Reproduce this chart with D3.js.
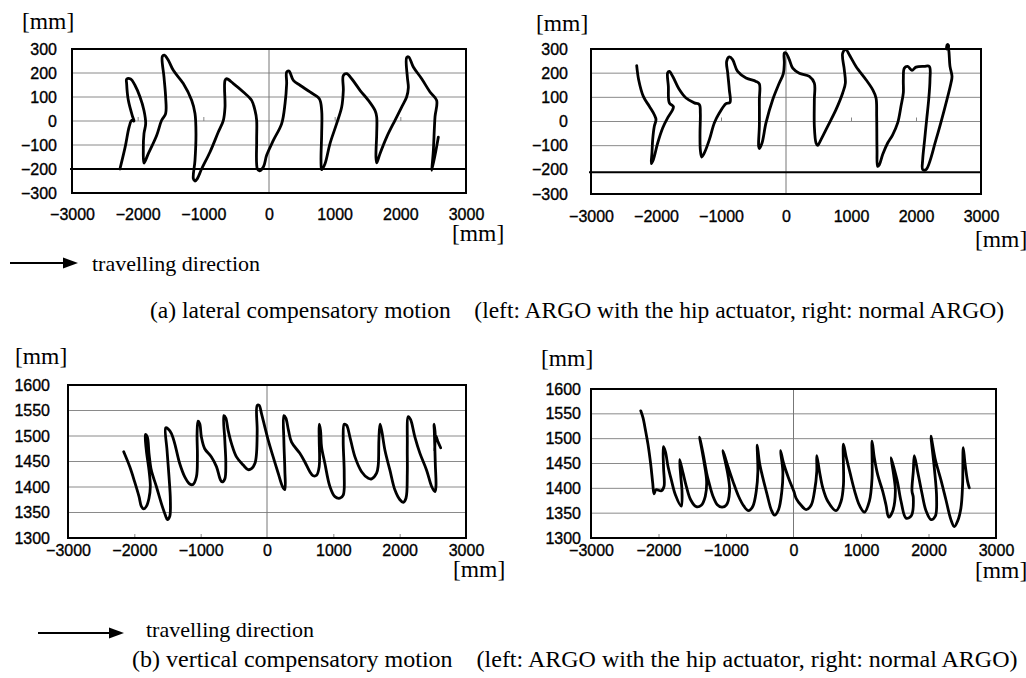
<!DOCTYPE html>
<html>
<head>
<meta charset="utf-8">
<script src="https://cdn.jsdelivr.net/npm/d3@7"></script>
<style>
  body { margin: 0; background: #fff; }
  svg { display: block; }
</style>
</head>
<body>
<svg id="fig" width="1026" height="678"></svg>
<script>

// ---- Data (in mm) ----

var xTicks = [-3000, -2000, -1000, 0, 1000, 2000, 3000];
var minorTicks = [-2000, -1000, 1000, 2000];
var lateralTicks = [-300, -200, -100, 0, 100, 200, 300];
var verticalTicks = [1300, 1350, 1400, 1450, 1500, 1550, 1600];

var unitLabel = "[mm]";
var directionLabel = "travelling direction";
var captions = [
	"(a) lateral compensatory motion    (left: ARGO with the hip actuator, right: normal ARGO)",
	"(b) vertical compensatory motion    (left: ARGO with the hip actuator, right: normal ARGO)"
];

// lateral motion, ARGO with the hip actuator
var lateralHip = [[-2270,-200],[-2190,-108],[-2130,-25],[-2090,3],[-2056,0],[-2076,17],[-2142,86],[-2168,156],[-2168,174],[-2107,175],[-2041,149],[-1964,100],[-1904,44],[-1878,-11],[-1904,-53],[-1914,-122],[-1904,-175],[-1838,-136],[-1711,-60],[-1635,3],[-1574,31],[-1574,100],[-1599,183],[-1624,269],[-1594,274],[-1533,253],[-1457,211],[-1305,156],[-1178,86],[-1127,31],[-1112,-53],[-1127,-164],[-1152,-240],[-1127,-250],[-1091,-240],[-1025,-199],[-898,-129],[-772,-46],[-695,3],[-670,58],[-670,169],[-645,176],[-543,156],[-391,121],[-264,86],[-213,44],[-188,3],[-188,-81],[-178,-199],[-147,-208],[-86,-192],[-36,-143],[66,-81],[193,-11],[244,72],[269,156],[269,204],[305,208],[371,169],[472,149],[624,121],[766,93],[802,44],[802,-53],[792,-164],[802,-203],[853,-178],[929,-94],[1030,-11],[1107,58],[1132,128],[1132,190],[1183,197],[1259,176],[1386,128],[1513,86],[1614,44],[1640,17],[1640,-53],[1629,-150],[1640,-174],[1690,-136],[1792,-67],[1919,3],[2020,58],[2096,100],[2122,139],[2107,183],[2096,264],[2127,267],[2198,225],[2325,176],[2452,121],[2553,86],[2528,17],[2503,-122],[2482,-206],[2579,-67]];

// lateral motion, normal ARGO
var lateralNormal = [[-2297,231],[-2267,173],[-2195,104],[-2103,63],[-2026,28],[-2000,8],[-2026,-20],[-2051,-75],[-2062,-130],[-2072,-174],[-2041,-158],[-1974,-89],[-1897,-27],[-1821,15],[-1744,49],[-1733,62],[-1795,77],[-1810,146],[-1821,201],[-1795,207],[-1744,187],[-1641,132],[-1538,97],[-1410,77],[-1333,70],[-1318,35],[-1323,-48],[-1318,-117],[-1297,-147],[-1256,-130],[-1179,-75],[-1103,-6],[-1026,35],[-923,74],[-862,79],[-872,132],[-897,201],[-913,249],[-872,267],[-821,256],[-744,207],[-615,180],[-462,166],[-410,156],[-410,90],[-410,-20],[-421,-103],[-410,-112],[-369,-89],[-308,-6],[-205,90],[-103,159],[-41,198],[-26,242],[-26,283],[0,283],[51,256],[103,221],[205,200],[359,187],[436,159],[436,90],[436,-20],[462,-89],[487,-99],[538,-75],[641,-20],[769,49],[872,118],[913,159],[897,214],[872,283],[923,297],[974,276],[1077,228],[1231,173],[1333,132],[1385,97],[1395,21],[1400,-117],[1410,-186],[1436,-179],[1487,-137],[1564,-89],[1641,-55],[1718,-6],[1769,63],[1805,118],[1805,173],[1821,221],[1872,228],[1938,212],[2000,225],[2128,228],[2205,228],[2215,173],[2195,90],[2164,8],[2133,-75],[2103,-158],[2103,-199],[2154,-199],[2308,-75],[2436,49],[2538,159],[2554,187],[2523,228],[2503,297],[2487,311],[2470,300],[2480,318],[2500,315],[2495,300]];

// vertical motion, ARGO with the hip actuator
var verticalHip = [[-2160,1469],[-2070,1440],[-1995,1410],[-1929,1381],[-1894,1362],[-1859,1357],[-1819,1362],[-1779,1378],[-1759,1401],[-1779,1433],[-1819,1472],[-1834,1503],[-1804,1498],[-1779,1466],[-1744,1433],[-1668,1401],[-1593,1368],[-1533,1345],[-1502,1336],[-1467,1342],[-1457,1375],[-1477,1420],[-1507,1472],[-1527,1516],[-1492,1514],[-1442,1505],[-1391,1485],[-1316,1446],[-1240,1420],[-1165,1406],[-1115,1405],[-1064,1420],[-1049,1459],[-1054,1505],[-1039,1529],[-1014,1524],[-989,1498],[-939,1475],[-838,1459],[-762,1440],[-702,1414],[-677,1410],[-636,1416],[-621,1446],[-636,1492],[-651,1540],[-621,1535],[-586,1511],[-535,1485],[-460,1459],[-359,1443],[-284,1434],[-234,1436],[-183,1446],[-158,1466],[-148,1511],[-148,1560],[-118,1560],[-83,1544],[-33,1518],[18,1492],[93,1459],[169,1427],[234,1401],[269,1395],[269,1433],[254,1492],[254,1540],[284,1535],[324,1511],[370,1488],[495,1466],[571,1449],[646,1430],[696,1422],[747,1423],[787,1440],[787,1492],[787,1523],[807,1511],[822,1479],[873,1446],[948,1401],[1024,1381],[1099,1378],[1149,1384],[1164,1427],[1149,1492],[1164,1523],[1200,1521],[1250,1498],[1326,1459],[1426,1430],[1527,1417],[1577,1416],[1652,1427],[1677,1443],[1687,1492],[1703,1523],[1728,1511],[1778,1472],[1853,1433],[1929,1394],[2004,1375],[2054,1370],[2095,1378],[2115,1427],[2115,1482],[2130,1538],[2165,1532],[2230,1498],[2306,1466],[2406,1433],[2482,1401],[2532,1391],[2547,1401],[2537,1446],[2522,1511],[2517,1523],[2535,1505],[2527,1470],[2545,1500],[2580,1488],[2618,1477]];

// vertical motion, normal ARGO
var verticalNormal = [[-2263,1556],[-2229,1542],[-2204,1525],[-2155,1488],[-2115,1448],[-2086,1411],[-2066,1389],[-2037,1397],[-1958,1395],[-1918,1404],[-1925,1441],[-1928,1484],[-1898,1474],[-1859,1444],[-1810,1417],[-1750,1387],[-1662,1364],[-1652,1394],[-1672,1427],[-1686,1458],[-1637,1431],[-1588,1404],[-1524,1377],[-1440,1363],[-1366,1366],[-1307,1384],[-1287,1414],[-1327,1454],[-1391,1503],[-1341,1471],[-1287,1431],[-1257,1414],[-1193,1384],[-1129,1367],[-1060,1362],[-996,1366],[-947,1394],[-971,1427],[-1045,1476],[-981,1448],[-897,1414],[-814,1384],[-735,1364],[-666,1355],[-602,1364],[-552,1394],[-528,1434],[-537,1487],[-503,1451],[-454,1421],[-390,1387],[-330,1357],[-281,1346],[-222,1357],[-173,1394],[-158,1434],[-192,1476],[-148,1451],[-74,1421],[5,1394],[39,1380],[113,1366],[187,1357],[261,1366],[311,1394],[345,1434],[345,1466],[385,1434],[434,1401],[508,1374],[631,1355],[705,1374],[740,1407],[740,1489],[779,1464],[838,1431],[907,1394],[976,1366],[1050,1352],[1124,1374],[1164,1421],[1164,1495],[1198,1461],[1248,1427],[1322,1394],[1371,1366],[1410,1342],[1469,1354],[1509,1394],[1484,1427],[1445,1462],[1494,1438],[1543,1411],[1593,1374],[1667,1340],[1741,1344],[1775,1381],[1755,1395],[1775,1434],[1790,1466],[1839,1434],[1903,1390],[1963,1355],[2037,1337],[2101,1344],[2120,1381],[2086,1441],[2037,1505],[2101,1458],[2184,1417],[2258,1377],[2332,1337],[2382,1323],[2431,1334],[2480,1360],[2505,1407],[2515,1482],[2540,1451],[2579,1414],[2604,1401]];

// ---- Drawing ----

var SANS = "'Liberation Sans', Arial, sans-serif";
var SERIF = "'Liberation Serif', 'Times New Roman', serif";

var svg = d3.select("#fig");

// Layout of the four panels (pixel boxes and label placement):
var panels = [
	{ points: lateralHip, yTicks: lateralTicks, refLine: -200, minorAt: 0,
	  left: 72, right: 466, top: 49, bottom: 193, yPad: 15, xPad: 16,
	  unitTop: [22, 29], unitBottom: [452, 241] },
	{ points: lateralNormal, yTicks: lateralTicks, refLine: -210, minorAt: 0,
	  left: 591, right: 981, top: 49, bottom: 194, yPad: 23, xPad: 17,
	  unitTop: [536, 31], unitBottom: [975, 247] },
	{ points: verticalHip, yTicks: verticalTicks, minorAt: 1300,
	  left: 68, right: 466, top: 385, bottom: 538, yPad: 18, xPad: 7,
	  unitTop: [15, 364], unitBottom: [453, 577] },
	{ points: verticalNormal, yTicks: verticalTicks, minorAt: 1300,
	  left: 591, right: 996, top: 389, bottom: 538, yPad: 10, xPad: 7,
	  unitTop: [541, 366], unitBottom: [975, 578] }
];

var tickFormat = d3.format("d");

panels.forEach(function(p) {

	var x = d3.scaleLinear().domain([xTicks[0], xTicks[xTicks.length - 1]]).range([p.left, p.right]);
	var y = d3.scaleLinear().domain([p.yTicks[0], p.yTicks[p.yTicks.length - 1]]).range([p.bottom, p.top]);
	var g = svg.append("g");

	// Horizontal grid lines (the -200 one is replaced by the thick line):
	g.selectAll("line.grid")
		.data(p.yTicks.slice(1, -1).filter(function(d) {
			return p.refLine == undefined || d != -200;
		}))
		.enter().append("line")
		.attr("x1", p.left).attr("x2", p.right)
		.attr("y1", function(d) { return y(d); })
		.attr("y2", function(d) { return y(d); })
		.attr("stroke", "#8a8a8a")
		.attr("stroke-width", 1);

	// The vertical line at x = 0:
	g.append("line")
		.attr("x1", x(0)).attr("x2", x(0))
		.attr("y1", p.top).attr("y2", p.bottom)
		.attr("stroke", "#777")
		.attr("stroke-width", 1);

	// The thick reference line of the lateral plots:
	if (p.refLine != undefined)
		g.append("line")
			.attr("x1", p.left - 2).attr("x2", p.right)
			.attr("y1", y(p.refLine)).attr("y2", y(p.refLine))
			.attr("stroke", "#000")
			.attr("stroke-width", 2);

	// Small tick marks:
	var minor = g.append("g")
		.attr("transform", "translate(0," + y(p.minorAt) + ")")
		.call(d3.axisBottom(x).tickValues(minorTicks).tickSize(-4).tickFormat(""));
	minor.select(".domain").remove();
	minor.selectAll("line").attr("stroke", "#888");

	// The trajectory:
	g.append("path")
		.datum(p.points)
		.attr("d", d3.line()
			.curve(d3.curveCatmullRom.alpha(0.5))
			.x(function(d) { return x(d[0]); })
			.y(function(d) { return y(d[1]); }))
		.attr("fill", "none")
		.attr("stroke", "#000")
		.attr("stroke-width", 2.8)
		.attr("stroke-linejoin", "round")
		.attr("stroke-linecap", "round");

	// The frame:
	g.append("rect")
		.attr("x", p.left).attr("y", p.top)
		.attr("width", p.right - p.left)
		.attr("height", p.bottom - p.top)
		.attr("fill", "none")
		.attr("stroke", "#000")
		.attr("stroke-width", 2);

	// Axes (labels only):
	var yAxis = g.append("g")
		.attr("transform", "translate(" + p.left + ",0)")
		.call(d3.axisLeft(y).tickValues(p.yTicks).tickSize(0).tickPadding(p.yPad).tickFormat(tickFormat));
	var xAxis = g.append("g")
		.attr("transform", "translate(0," + p.bottom + ")")
		.call(d3.axisBottom(x).tickValues(xTicks).tickSize(0).tickPadding(p.xPad).tickFormat(tickFormat));

	[yAxis, xAxis].forEach(function(a) {
		a.select(".domain").remove();
		a.attr("font-family", SANS).attr("font-size", 16);
		a.selectAll("text")
			.attr("fill", "#000")
			.attr("stroke", "#000")
			.attr("stroke-width", 0.35);
	});

	// Units:
	[p.unitTop, p.unitBottom].forEach(function(u) {
		g.append("text")
			.attr("x", u[0]).attr("y", u[1])
			.attr("font-family", SERIF)
			.attr("font-size", 23.5)
			.text(unitLabel);
	});
});

// Travelling direction arrows and captions:
var notes = [
	{ arrow: [10, 78, 263], label: [92, 271], caption: [150, 318, 23.5] },
	{ arrow: [38, 124, 633], label: [146, 637], caption: [132, 667, 24] }
];

notes.forEach(function(n, i) {
	var ax0 = n.arrow[0], ax1 = n.arrow[1], ay = n.arrow[2];
	svg.append("line")
		.attr("x1", ax0).attr("x2", ax1 - 12)
		.attr("y1", ay).attr("y2", ay)
		.attr("stroke", "#000")
		.attr("stroke-width", 2);
	svg.append("path")
		.attr("d", "M" + ax1 + "," + ay + "L" + (ax1 - 15) + "," + (ay - 5.5) +
			"L" + (ax1 - 15) + "," + (ay + 5.5) + "Z")
		.attr("fill", "#000");

	svg.append("text")
		.attr("x", n.label[0]).attr("y", n.label[1])
		.attr("font-family", SERIF)
		.attr("font-size", 22)
		.text(directionLabel);

	svg.append("text")
		.attr("x", n.caption[0]).attr("y", n.caption[1])
		.attr("font-family", SERIF)
		.attr("font-size", n.caption[2])
		.style("white-space", "pre")
		.text(captions[i]);
});

</script>
</body>
</html>
